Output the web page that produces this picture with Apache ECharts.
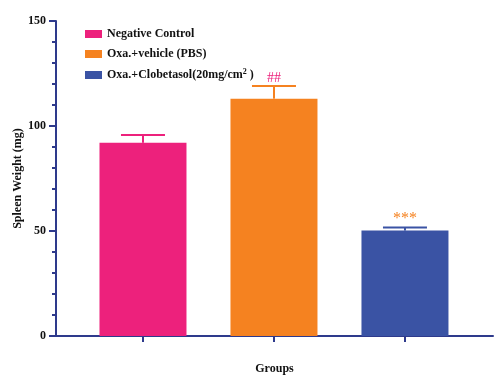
<!DOCTYPE html>
<html>
<head>
<meta charset="utf-8">
<script src="https://cdn.jsdelivr.net/npm/echarts@6/dist/echarts.min.js"></script>
<style>html,body{margin:0;padding:0;background:#fff}#c{width:500px;height:384px}</style>
</head>
<body>
<div id="c"></div>
<script>
const groups = ['Negative Control', 'Oxa.+vehicle (PBS)', 'Oxa.+Clobetasol(20mg/cm2 )'];
const means = [92, 113, 50.2];
const sems = [3.7, 6.0, 1.5];
const annotations = ['', '##', '***'];
const yTicks = [0, 50, 100, 150];

const colors = ['#ED217C', '#F58220', '#3A53A4'];
const annColors = ['#ED217C', '#ED217C', '#F58220'];
const axisColor = '#2E3A8C';
const font = '"Liberation Serif", "Times New Roman", serif';

const chart = echarts.init(document.getElementById('c'));
const barSeries = groups.map((g, i) => ({
  name: g,
  type: 'bar',
  barWidth: 87,
  barGap: '-100%',
  itemStyle: { color: colors[i] },
  data: [[i, means[i]]],
  z: 2
}));

chart.setOption({
  animation: false,
  grid: { left: 56, right: 7, top: 21, bottom: 48, containLabel: false, outerBoundsMode: 'none' },
  legend: {
    data: groups,
    orient: 'vertical',
    left: 80,
    top: 23,
    itemWidth: 17,
    itemHeight: 8,
    itemGap: 8,
    icon: 'rect',
    formatter: function (name) {
      return name.replace('cm2 )', 'cm{sup|2} )');
    },
    textStyle: {
      fontFamily: font, fontWeight: 'bold', fontSize: 12, color: '#111',
      rich: { sup: { fontFamily: font, fontWeight: 'bold', fontSize: 8, verticalAlign: 'top', padding: [0, 0, 6, 0], color: '#111' } }
    }
  },
  xAxis: {
    type: 'value',
    min: -0.664,
    max: 2.672,
    name: 'Groups',
    nameLocation: 'middle',
    nameGap: 27,
    nameMoveOverlap: false,
    nameTextStyle: { fontFamily: font, fontWeight: 'bold', fontSize: 12, color: '#111' },
    axisLine: { show: true, onZero: false, lineStyle: { color: axisColor, width: 2 } },
    axisTick: { show: true, customValues: [0, 1, 2], length: 6, lineStyle: { color: axisColor, width: 2 } },
    axisLabel: { show: false },
    splitLine: { show: false }
  },
  yAxis: {
    type: 'value',
    min: 0,
    max: 150,
    interval: 50,
    name: 'Spleen Weight (mg)',
    nameLocation: 'middle',
    nameGap: 32,
    nameMoveOverlap: false,
    nameTextStyle: { fontFamily: font, fontWeight: 'bold', fontSize: 12, color: '#111' },
    axisLine: { show: true, onZero: false, lineStyle: { color: axisColor, width: 2 } },
    axisTick: { show: true, length: 7, lineStyle: { color: axisColor, width: 2 } },
    minorTick: { show: true, splitNumber: 5, length: 4, lineStyle: { color: axisColor, width: 2 } },
    axisLabel: {
      margin: 10,
      fontFamily: font, fontWeight: 'bold', fontSize: 12, color: '#111',
      formatter: v => (yTicks.indexOf(v) >= 0 ? String(v) : '')
    },
    splitLine: { show: false },
    minorSplitLine: { show: false }
  },
  series: barSeries.concat([{
    type: 'custom',
    z: 3,
    data: means.map((m, i) => [i, m, sems[i]]),
    renderItem: function (params, api) {
      const i = params.dataIndex;
      const x = api.value(0), m = api.value(1), e = api.value(2);
      const base = api.coord([x, m]);
      const top = api.coord([x, m + e]);
      const half = 22;
      return {
        type: 'group',
        children: [
          { type: 'line', shape: { x1: base[0], y1: base[1], x2: top[0], y2: top[1] }, style: { stroke: colors[i], lineWidth: 2 } },
          { type: 'line', shape: { x1: top[0] - half, y1: top[1], x2: top[0] + half, y2: top[1] }, style: { stroke: colors[i], lineWidth: 2 } },
          { type: 'text', style: { text: annotations[i], x: top[0], y: top[1] - 1, align: 'center', verticalAlign: 'bottom', fill: annColors[i], font: (i === 2 ? '16px ' : '14px ') + font } }
        ]
      };
    }
  }])
});
</script>
</body>
</html>
